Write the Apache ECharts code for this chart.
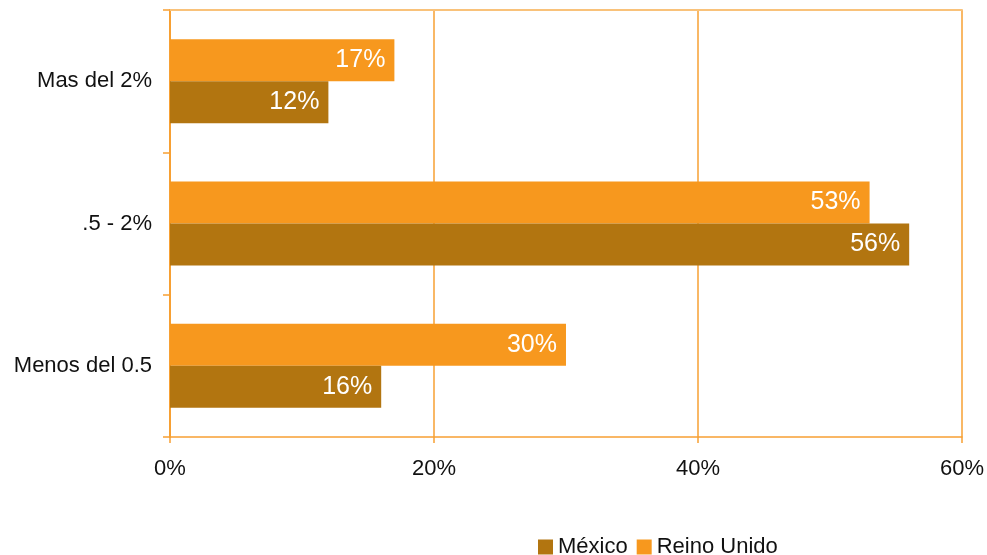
<!DOCTYPE html>
<html>
<head>
<meta charset="utf-8">
<script src="https://cdn.jsdelivr.net/npm/echarts@6/dist/echarts.min.js"></script>
<style>
  html, body { margin: 0; padding: 0; background: #ffffff; }
  #chart { width: 987px; height: 555px; }
</style>
</head>
<body>
<div id="chart"></div>
<script>
// Categories, bottom to top
const categories = ['Menos del 0.5', '.5 - 2%', 'Mas del 2%'];
const seriesNames = ['México', 'Reino Unido'];
const mexico = [16, 56, 12];
const reinoUnido = [30, 53, 17];
const xTicks = [0, 20, 40, 60];

const orange = '#F7981E';
const brown = '#B27510';
const gridOrange = '#F7A033';
const font = '"Liberation Sans", Arial, sans-serif';

const chart = echarts.init(document.getElementById('chart'), null, { renderer: 'canvas' });

const labelStyle = {
  show: true,
  position: 'insideRight',
  distance: 9,
  color: '#ffffff',
  fontFamily: font,
  fontSize: 25,
  formatter: p => p.value + '%'
};

chart.setOption({
  animation: false,
  backgroundColor: '#ffffff',
  grid: { left: 170, right: 24, top: 10, bottom: 118, containLabel: false },
  legend: {
    data: seriesNames,
    top: 531,
    left: 533,
    itemWidth: 15,
    itemHeight: 15,
    itemGap: 9,
    icon: 'rect',
    textStyle: { fontFamily: font, fontSize: 22, color: '#111111' }
  },
  xAxis: [{
    type: 'value',
    min: xTicks[0],
    max: xTicks[xTicks.length - 1],
    interval: 20,
    axisLine: { show: true, lineStyle: { color: gridOrange, width: 1.5 } },
    axisTick: { show: true, length: 6, lineStyle: { color: gridOrange, width: 1.5 } },
    axisLabel: { fontFamily: font, fontSize: 22, color: '#111111', margin: 21, formatter: v => v + '%' },
    splitLine: { show: true, lineStyle: { color: gridOrange, width: 1.5 } }
  }, {
    type: 'value',
    position: 'top',
    min: 0,
    max: 1,
    axisLine: { show: true, lineStyle: { color: '#F9C27A', width: 2 } },
    axisTick: { show: false },
    axisLabel: { show: false },
    splitLine: { show: false }
  }],
  yAxis: {
    type: 'category',
    data: categories,
    axisLine: { show: true, lineStyle: { color: gridOrange, width: 2 } },
    axisTick: { show: true, length: 7, lineStyle: { color: gridOrange, width: 1.5 } },
    axisLabel: { fontFamily: font, fontSize: 22, color: '#111111', margin: 18 }
  },
  // Reino Unido listed first so its bar sits above México within each band
  series: [{
    name: seriesNames[1],
    type: 'bar',
    data: reinoUnido,
    barWidth: 42,
    barGap: '0%',
    itemStyle: { color: orange },
    label: labelStyle
  }, {
    name: seriesNames[0],
    type: 'bar',
    data: mexico,
    barWidth: 42,
    barGap: '0%',
    itemStyle: { color: brown },
    label: labelStyle
  }]
});
</script>
</body>
</html>
